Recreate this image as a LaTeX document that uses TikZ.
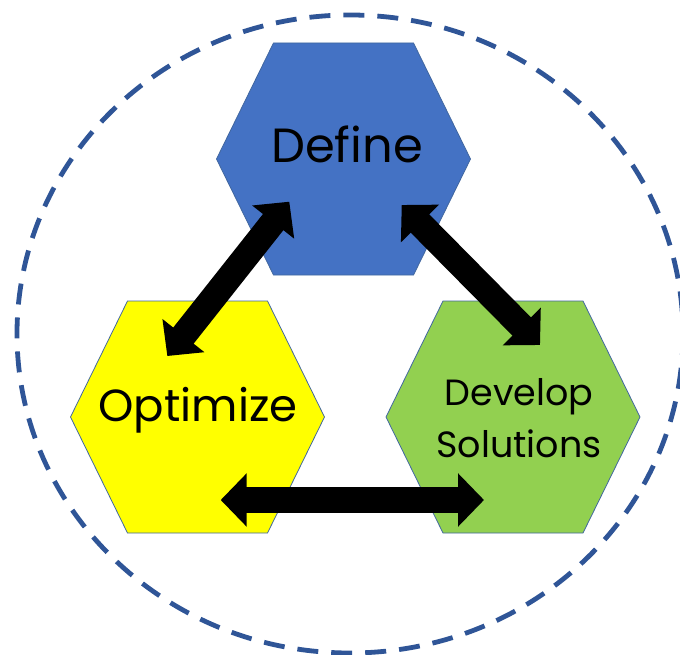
\documentclass[tikz,border=0pt]{standalone}
\usepackage{fontspec}
\setmainfont{Poppins}
\usetikzlibrary{arrows.meta}

\definecolor{ringblue}{HTML}{2F5597}
\definecolor{defblue}{HTML}{4472C4}
\definecolor{optyellow}{HTML}{FFFF00}
\definecolor{devgreen}{HTML}{92D050}
\definecolor{hexedge}{HTML}{41679F}

\tikzset{
  hexagon/.pic={
    \path[pic actions] (-127,0) -- (-70,-116) -- (70,-116) -- (127,0)
      -- (70,116) -- (-70,116) -- cycle;
  },
  hexstyle/.style={draw=hexedge, line width=0.8pt},
  stage/.style={inner sep=0pt, text=black},
  dblarrow/.style={line width=26pt, black,
    {Triangle[length=26pt,width=52pt]}-{Triangle[length=26pt,width=52pt]}},
  ring/.style={draw=ringblue, line width=4.8pt, dash pattern=on 21pt off 13pt}
}

\begin{document}
\begin{tikzpicture}[x=1pt,y=-1pt]
  \useasboundingbox (0,0) rectangle (680,655);

  % dashed outer ring
  \draw[ring] (350,334) ellipse [x radius=333, y radius=319];

  % the three hexagons
  \coordinate (hdef) at (343.5,159);
  \coordinate (hopt) at (197.5,417);
  \coordinate (hdev) at (513,417);
  \pic[hexstyle, fill=defblue] at (hdef) {hexagon};
  \pic[hexstyle, fill=optyellow] at (hopt) {hexagon};
  \pic[hexstyle, fill=devgreen] at (hdev) {hexagon};

  % labels
  \node[stage, anchor=base, font=\fontsize{48}{48}\selectfont] (def) at (347,163) {Define};
  \node[stage, anchor=base, font=\fontsize{45}{45}\selectfont] (opt) at (198,421) {Optimize};
  \node[stage, anchor=center, align=center, font=\fontsize{36.5}{52}\selectfont] (dev) at (519,418) {Develop\\Solutions};

  % arrow end points
  \coordinate (a1) at (289.3,201.7);
  \coordinate (a2) at (167.3,356);
  \coordinate (b1) at (401.7,205);
  \coordinate (b2) at (540,345);
  \coordinate (c1) at (220.7,500);
  \coordinate (c2) at (484,500);

  % double-headed arrows between the stages
  \draw[dblarrow] (a1) -- (a2);
  \draw[dblarrow] (b1) -- (b2);
  \draw[dblarrow] (c1) -- (c2);
\end{tikzpicture}
\end{document}
